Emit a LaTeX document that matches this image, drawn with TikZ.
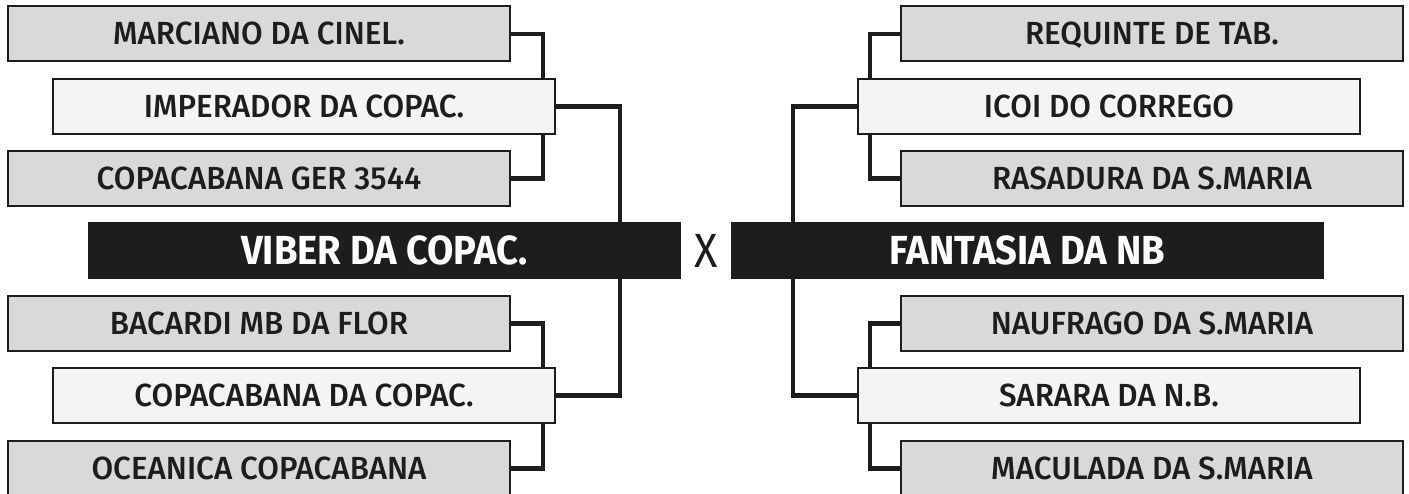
\documentclass[tikz,border=0pt]{standalone}
\usepackage{fontspec}
\setmainfont{Fira Sans}[UprightFont=* Medium, BoldFont=* Bold,
  UprightFeatures={FakeStretch=0.98}, BoldFeatures={FakeStretch=0.94}]
\newfontfamily\vsfont{Fira Sans}[FakeStretch=0.9]
\definecolor{boxgray}{HTML}{D9D9D9}
\definecolor{boxlight}{HTML}{F4F4F4}
\definecolor{ink}{HTML}{1D1D1B}
\begin{document}
\begin{tikzpicture}[x=1pt,y=-1pt,
  team/.style={draw=ink, line width=2pt, fill=boxgray, minimum width=502pt, minimum height=55pt,
    inner sep=0pt, outer sep=0pt, text=ink, text height=22pt, text depth=0pt,
    font=\fontsize{32}{36}\selectfont},
  semi/.style={team, fill=boxlight},
  final/.style={fill=ink, draw=none, minimum width=593pt, minimum height=57pt, inner sep=0pt,
    outer sep=0pt, text=white, text height=28pt, text depth=0pt,
    font=\fontsize{40.6}{44}\selectfont\bfseries},
  link/.style={draw=ink, line width=4.5pt}]
\useasboundingbox (0,0) rectangle (1409,494);
\clip (0,0) rectangle (1409,494);
% left side
\node[team] (L1) at (259,34) {MARCIANO DA CINEL.};
\node[semi] (L2) at (304,106.5) {IMPERADOR DA COPAC.};
\node[team] (L3) at (259,178.5) {COPACABANA GER 3544};
\node[final] (LB) at (384.5,250.5) {VIBER DA COPAC.};
\node[team] (L4) at (259,323.5) {BACARDI MB DA FLOR};
\node[semi] (L5) at (304,395.5) {COPACABANA DA COPAC.};
\node[team] (L6) at (259,468.5) {OCEANICA COPACABANA};
% right side
\node[team] (R1) at (1152,34) {REQUINTE DE TAB.};
\node[semi] (R2) at (1109,106.5) {ICOI DO CORREGO};
\node[team] (R3) at (1152,178.5) {RASADURA DA S.MARIA};
\node[final] (RB) at (1027.5,250.5) {FANTASIA DA NB};
\node[team] (R4) at (1152,323.5) {NAUFRAGO DA S.MARIA};
\node[semi] (R5) at (1109,395.5) {SARARA DA N.B.};
\node[team] (R6) at (1152,468.5) {MACULADA DA S.MARIA};
% versus
\node[text=ink, inner sep=0pt, text height=33pt, text depth=0pt,
  font=\vsfont\fontsize{48}{52}\selectfont] (vs) at (706,251) {X};
% column coordinates
\coordinate (lx1) at (543,0);
\coordinate (lx2) at (620,0);
\coordinate (rx1) at (870,0);
\coordinate (rx2) at (793,0);
% left connectors
\draw[link] (L1.east) -| (lx1 |- L2.north);
\draw[link] (L3.east) -| (lx1 |- L2.south);
\draw[link] (L2.east) -| (lx2 |- LB.north);
\draw[link] (lx2 |- LB.south) |- (L5.east);
\draw[link] (L4.east) -| (lx1 |- L5.north);
\draw[link] (L6.east) -| (lx1 |- L5.south);
% right connectors
\draw[link] (R1.west) -| (rx1 |- R2.north);
\draw[link] (R3.west) -| (rx1 |- R2.south);
\draw[link] (R2.west) -| (rx2 |- RB.north);
\draw[link] (rx2 |- RB.south) |- (R5.west);
\draw[link] (R4.west) -| (rx1 |- R5.north);
\draw[link] (R6.west) -| (rx1 |- R5.south);
\end{tikzpicture}
\end{document}
